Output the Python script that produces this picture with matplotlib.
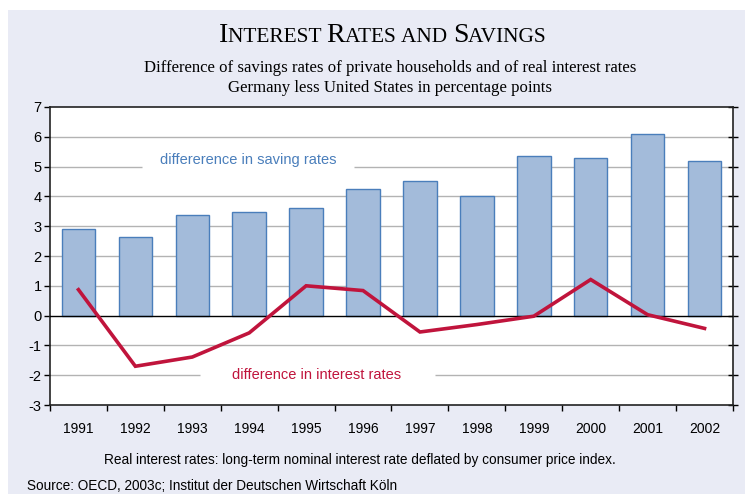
import matplotlib.pyplot as plt
import numpy as np
from matplotlib.offsetbox import AnchoredOffsetbox, HPacker, TextArea
from matplotlib.patches import Rectangle

# 数据
years = ["1991", "1992", "1993", "1994", "1995", "1996",
         "1997", "1998", "1999", "2000", "2001", "2002"]
saving_diff = [2.91, 2.64, 3.36, 3.49, 3.60, 4.25, 4.53, 4.00, 5.35, 5.29, 6.10, 5.20]
interest_diff = [0.87, -1.70, -1.39, -0.58, 1.00, 0.84, -0.55, -0.30, -0.02, 1.21, 0.03, -0.43]
y_ticks = [-3, -2, -1, 0, 1, 2, 3, 4, 5, 6, 7]

BG = "#e9ebf5"
BAR_FILL = "#a3bbda"
BAR_EDGE = "#4a7ebb"
RED = "#c0143c"
BLUE_TXT = "#4a7ebb"
GRID = "#b3b3b3"

W, H = 745, 494
fig = plt.figure(figsize=(W / 100, H / 100), dpi=100)
fig.patch.set_facecolor("white")
fig.patches.append(Rectangle((8 / W, 0), 1, 1 - 10 / H, transform=fig.transFigure,
                             facecolor=BG, edgecolor="none", zorder=-10))

ax = fig.add_axes([50 / W, 1 - 405 / H, (733 - 50) / W, (405 - 107) / H])
ax.set_facecolor("white")

x = np.arange(len(years))
ax.bar(x, saving_diff, width=0.59, color=BAR_FILL, edgecolor=BAR_EDGE, linewidth=1.0, zorder=3)
ax.plot(x, interest_diff, color=RED, linewidth=2.6, zorder=5, solid_joinstyle="miter")
ax.axhline(0, color="black", linewidth=1.0, zorder=4)

ax.set_xlim(-0.5, len(years) - 0.5)
ax.set_ylim(-3, 7)
ax.set_yticks(y_ticks)
ax.set_yticklabels([str(v) for v in y_ticks])

# 网格线 (标注处留空)
gaps = {5: (1.11, 4.84), -2: (2.14, 6.26)}
for v in y_ticks:
    if v in (0, 7, -3):
        continue
    if v in gaps:
        g0, g1 = gaps[v]
        ax.hlines(v, -0.5, g0, color=GRID, linewidth=1.0, zorder=1)
        ax.hlines(v, g1, len(years) - 0.5, color=GRID, linewidth=1.0, zorder=1)
    else:
        ax.axhline(v, color=GRID, linewidth=1.0, zorder=1)

# x 轴: 刻度在分界处, 标签在中心
ax.set_xticks(np.arange(-0.5, len(years), 1.0))
ax.set_xticklabels([])
ax.set_xticks(x, minor=True)
ax.set_xticklabels(years, minor=True)
ax.tick_params(axis="x", which="minor", length=0, pad=12, labelsize=10)
ax.tick_params(axis="x", which="major", direction="out", length=4, width=1)
ax.tick_params(axis="y", direction="out", length=4, width=1, labelsize=10.5, pad=2)
ax.tick_params(axis="y", which="major", right=True, labelright=False)
for t in ax.yaxis.get_major_ticks():
    t.tick2line.set_marker("_")
    t.tick2line.set_markersize(7)

for side in ["left", "right", "bottom", "top"]:
    ax.spines[side].set_color("#222222")
    ax.spines[side].set_linewidth(1.2)

for lab in ax.get_xticklabels(minor=True) + ax.get_yticklabels():
    lab.set_fontfamily("Liberation Sans")

ax.text(2.99, 5.23, "differerence in saving rates", color=BLUE_TXT, fontsize=10.5,
        family="Liberation Sans", ha="center", va="center", zorder=6)
ax.text(4.19, -2.01, "difference in interest rates", color=RED, fontsize=10.5,
        family="Liberation Sans", ha="center", va="center", zorder=6)

# 标题 (小型大写字母)
serif = "Liberation Serif"
parts = []
for word in ["Interest", "Rates", "and", "Savings"]:
    if word == "and":
        parts.append(TextArea("AND ", textprops=dict(family=serif, size=15.4)))
    else:
        parts.append(TextArea(word[0], textprops=dict(family=serif, size=20)))
        parts.append(TextArea(word[1:].upper() + " ", textprops=dict(family=serif, size=15.4)))
title_box = HPacker(children=parts, align="baseline", pad=0, sep=0)
anchored = AnchoredOffsetbox(loc="center", child=title_box, frameon=False,
                             bbox_to_anchor=(385 / W, 1 - 36 / H),
                             bbox_transform=fig.transFigure, borderpad=0, pad=0)
fig.add_artist(anchored)

fig.text(390 / W, 1 - 68 / H, "Difference of savings rates of private households and of real interest rates",
         family=serif, fontsize=12.1, ha="center", va="center")
fig.text(390 / W, 1 - 88 / H, "Germany less United States in percentage points",
         family=serif, fontsize=12.1, ha="center", va="center")

fig.text(360 / W, 1 - 460 / H,
         "Real interest rates: long-term nominal interest rate deflated by consumer price index.",
         family="Liberation Sans", fontsize=9.8, ha="center", va="center")
fig.text(27 / W, 1 - 486 / H, "Source: OECD, 2003c; Institut der Deutschen Wirtschaft Köln",
         family="Liberation Sans", fontsize=9.8, ha="left", va="center")

fig.savefig("out.png", dpi=100, facecolor=fig.get_facecolor())
